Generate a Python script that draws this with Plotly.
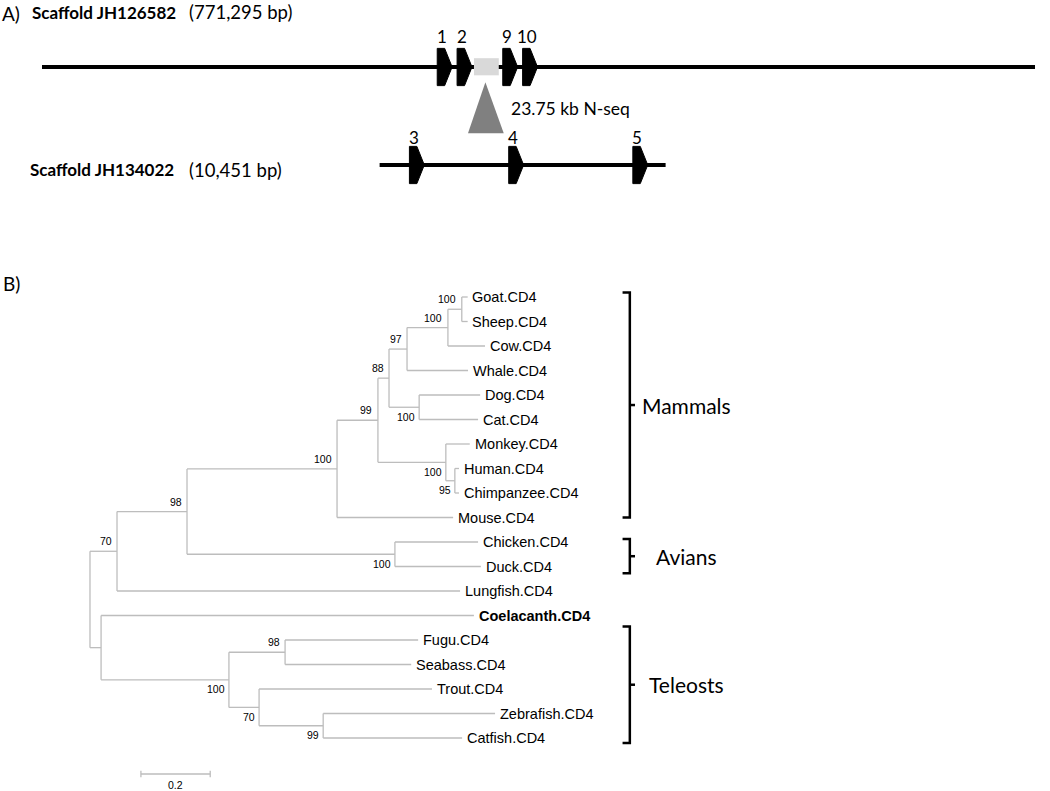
import plotly.graph_objects as go

# ---------------- Panel A data (schematic positions, % of drawing width) ----------------
top_scaffold_name = "Scaffold JH126582"
top_scaffold_size = "(771,295 bp)"
top_scaffold_extent = [0.0, 100.0]
top_exon_labels = ["1", "2", "9", "10"]
top_exon_pos = [39.8, 41.8, 46.4, 48.4]
gap_extent = [43.5, 46.0]
gap_label = "23.75 kb N-seq"

bottom_scaffold_name = "Scaffold JH134022"
bottom_scaffold_size = "(10,451 bp)"
bottom_scaffold_extent = [34.0, 62.8]
bottom_exon_labels = ["3", "4", "5"]
bottom_exon_pos = [37.0, 47.0, 59.5]

# ---------------- Panel B data (tree) ----------------
tips = ["Goat.CD4", "Sheep.CD4", "Cow.CD4", "Whale.CD4", "Dog.CD4", "Cat.CD4",
        "Monkey.CD4", "Human.CD4", "Chimpanzee.CD4", "Mouse.CD4", "Chicken.CD4",
        "Duck.CD4", "Lungfish.CD4", "Coelacanth.CD4", "Fugu.CD4", "Seabass.CD4",
        "Trout.CD4", "Zebrafish.CD4", "Catfish.CD4"]

edge_child = ["N70", "NFish", "N98", "Lungfish.CD4", "N100m", "NAves",
              "Chicken.CD4", "Duck.CD4", "N99", "Mouse.CD4", "N88", "NPrim",
              "N97", "NDogCat", "N100gsc", "Whale.CD4", "N100gs", "Cow.CD4",
              "Goat.CD4", "Sheep.CD4", "Dog.CD4", "Cat.CD4", "Monkey.CD4", "NHC",
              "Human.CD4", "Chimpanzee.CD4", "Coelacanth.CD4", "NTel", "NFS", "NTZC",
              "Fugu.CD4", "Seabass.CD4", "Trout.CD4", "NZC", "Zebrafish.CD4", "Catfish.CD4"]
edge_parent = ["root", "root", "N70", "N70", "N98", "N98",
               "NAves", "NAves", "N100m", "N100m", "N99", "N99",
               "N88", "N88", "N97", "N97", "N100gsc", "N100gsc",
               "N100gs", "N100gs", "NDogCat", "NDogCat", "NPrim", "NPrim",
               "NHC", "NHC", "NFish", "NFish", "NTel", "NTel",
               "NFS", "NFS", "NTZC", "NTZC", "NZC", "NZC"]
branch_length = [0.078, 0.032, 0.202, 0.990, 0.433, 0.600,
                 0.240, 0.248, 0.118, 0.335, 0.032, 0.196,
                 0.052, 0.087, 0.118, 0.176, 0.040, 0.107,
                 0.017, 0.017, 0.176, 0.170, 0.069, 0.026,
                 0.012, 0.012, 1.076, 0.369, 0.162, 0.087,
                 0.384, 0.364, 0.499, 0.185, 0.496, 0.401]

bootstrap_nodes = ["N70", "N98", "N100m", "N99", "N88", "N97", "N100gsc", "N100gs",
                   "NDogCat", "NPrim", "NHC", "NAves", "NTel", "NFS", "NTZC", "NZC"]
bootstrap_values = [70, 98, 100, 99, 88, 97, 100, 100,
                    100, 100, 95, 100, 100, 98, 70, 99]
bootstrap_below = {"NDogCat", "NPrim", "NHC", "NAves", "NTel", "NTZC", "NZC"}

clade_names = ["Mammals", "Avians", "Teleosts"]
clade_first = ["Goat.CD4", "Chicken.CD4", "Fugu.CD4"]
clade_last = ["Mouse.CD4", "Duck.CD4", "Catfish.CD4"]

scale_bar_length = 0.2

# ---------------- compute tree layout ----------------
children = {}
blen = {}
for c, p, L in zip(edge_child, edge_parent, branch_length):
    children.setdefault(p, []).append(c)
    blen[c] = L

xpos = {"root": 0.0}
def set_x(n):
    for c in children.get(n, []):
        xpos[c] = xpos[n] + blen[c]
        set_x(c)
set_x("root")

ypos = {t: i for i, t in enumerate(tips)}
def set_y(n):
    if n in ypos:
        return ypos[n]
    ys = [set_y(c) for c in children[n]]
    ypos[n] = (min(ys) + max(ys)) / 2
    return ypos[n]
set_y("root")

lx, ly = [], []
for n, ch in children.items():
    ys = [ypos[c] for c in ch]
    lx += [xpos[n], xpos[n], None]
    ly += [min(ys), max(ys), None]
    for c in ch:
        lx += [xpos[n], xpos[c], None]
        ly += [ypos[c], ypos[c], None]

TREE_GREY = "#bdbdbd"
FONT_A = "Lato"
FONT_B = "Liberation Sans, Arial"

fig = go.Figure()

# ---- Panel A traces ----
ROW_TOP, ROW_BOT = 0.0, 1.0
fig.add_trace(go.Scatter(x=top_scaffold_extent, y=[ROW_TOP, ROW_TOP], mode="lines",
                         line=dict(color="black", width=4), xaxis="x", yaxis="y",
                         hoverinfo="skip", showlegend=False))
fig.add_trace(go.Scatter(x=bottom_scaffold_extent, y=[ROW_BOT, ROW_BOT], mode="lines",
                         line=dict(color="black", width=4), xaxis="x", yaxis="y",
                         hoverinfo="skip", showlegend=False))
# gap box
g0, g1 = gap_extent
fig.add_trace(go.Scatter(x=[g0, g1, g1, g0, g0], y=[-0.09, -0.09, 0.085, 0.085, -0.09],
                         mode="lines", fill="toself", fillcolor="#d9d9d9",
                         line=dict(color="#d9d9d9", width=0), xaxis="x", yaxis="y",
                         hoverinfo="skip", showlegend=False))
# N-seq triangle
gm = (g0 + g1) / 2
fig.add_trace(go.Scatter(x=[gm - 0.1, gm - 1.85, gm + 1.75, gm - 0.1],
                         y=[0.155, 0.675, 0.675, 0.155],
                         mode="lines", fill="toself", fillcolor="#808080",
                         line=dict(color="#808080", width=0), xaxis="x", yaxis="y",
                         hoverinfo="skip", showlegend=False))

def gene_polys(pos_list, row):
    xs, ys = [], []
    h = 0.19
    for p in pos_list:
        xs += [p, p + 0.75, p + 1.5, p + 0.75, p, p, None]
        ys += [row - h, row - h, row, row + h, row + h, row - h, None]
    return xs, ys

gx, gy = gene_polys(top_exon_pos, ROW_TOP)
bx, by = gene_polys(bottom_exon_pos, ROW_BOT)
fig.add_trace(go.Scatter(x=gx + bx, y=gy + by, mode="lines", fill="toself",
                         fillcolor="black", line=dict(color="black", width=1),
                         xaxis="x", yaxis="y", hoverinfo="skip", showlegend=False))

ann = []
def a_text(x, y, text, size, xanchor="left", xref="x", yref="y", family=FONT_A, yanchor="middle"):
    ann.append(dict(x=x, y=y, xref=xref, yref=yref, text=text, showarrow=False,
                    xanchor=xanchor, yanchor=yanchor,
                    font=dict(family=family, size=size, color="black")))

for lab, p in zip(top_exon_labels, top_exon_pos):
    a_text(p + 0.45, ROW_TOP - 0.31, lab, 17, xanchor="center")
for lab, p in zip(bottom_exon_labels, bottom_exon_pos):
    a_text(p + 0.45, ROW_BOT - 0.28, lab, 17, xanchor="center")

a_text(-4.2, -0.55, "A)", 19)
a_text(-1.2, -0.56, "<b>%s</b>" % top_scaffold_name, 17)
a_text(14.6, -0.56, top_scaffold_size, 18.5)
a_text(-1.4, ROW_BOT + 0.05, "<b>%s</b>" % bottom_scaffold_name, 17)
a_text(14.6, ROW_BOT + 0.05, bottom_scaffold_size, 18.5)
a_text(g1 + 1.0, 0.42, gap_label, 17.5)

# ---- Panel B traces ----
fig.add_trace(go.Scatter(x=lx, y=ly, mode="lines", line=dict(color=TREE_GREY, width=1.3),
                         xaxis="x2", yaxis="y2", hoverinfo="skip", showlegend=False))

for t in tips:
    txt = "<b>%s</b>" % t if t == "Coelacanth.CD4" else t
    a_text(xpos[t] + 0.008, ypos[t], txt, 14.5, xref="x2", yref="y2", family=FONT_B)

for n, v in zip(bootstrap_nodes, bootstrap_values):
    if n in bootstrap_below:
        a_text(xpos[n] - 0.006, ypos[n] + 0.06, str(v), 10.5, xanchor="right",
               xref="x2", yref="y2", family=FONT_B, yanchor="top")
    else:
        a_text(xpos[n] - 0.010, ypos[n] - 0.08, str(v), 10.5, xanchor="right",
               xref="x2", yref="y2", family=FONT_B, yanchor="bottom")

# scale bar
sb0 = 0.147
sby = 19.47
fig.add_trace(go.Scatter(x=[sb0, sb0 + scale_bar_length, None, sb0, sb0, None,
                            sb0 + scale_bar_length, sb0 + scale_bar_length],
                         y=[sby, sby, None, sby - 0.13, sby + 0.13, None, sby - 0.13, sby + 0.13],
                         mode="lines", line=dict(color=TREE_GREY, width=1.3),
                         xaxis="x2", yaxis="y2", hoverinfo="skip", showlegend=False))
a_text(sb0 + scale_bar_length / 2, sby + 0.45, str(scale_bar_length), 10.5, xanchor="center",
       xref="x2", yref="y2", family=FONT_B)

a_text(-0.258, -0.57, "B)", 19, xref="x2", yref="y2")

# brackets
BR_X = 1.558
serif = 0.021
tick = 0.015
pad_top = [0.18, 0.12, 0.55]
pad_bot = [0.0, 0.28, 0.2]
label_gap = [0.03, 0.07, 0.05]
bkx, bky = [], []
for name, f, l, pt, pb, lg in zip(clade_names, clade_first, clade_last, pad_top, pad_bot, label_gap):
    y0 = ypos[f] - pt
    y1 = ypos[l] + pb
    ym = (y0 + y1) / 2
    bkx += [BR_X - serif, BR_X, BR_X, BR_X - serif, None, BR_X, BR_X + tick, None]
    bky += [y0, y0, y1, y1, None, ym, ym, None]
    a_text(BR_X + lg, ym, name, 21, xref="x2", yref="y2")
fig.add_trace(go.Scatter(x=bkx, y=bky, mode="lines", line=dict(color="black", width=2.5),
                         xaxis="x2", yaxis="y2", hoverinfo="skip", showlegend=False))

fig.update_layout(
    width=1050, height=791,
    margin=dict(l=0, r=0, t=0, b=0),
    paper_bgcolor="white", plot_bgcolor="white",
    showlegend=False,
    xaxis=dict(domain=[0, 1], range=[-4.23, 101.51], visible=False, anchor="y"),
    yaxis=dict(domain=[0, 1], range=[7.388, -0.6837], visible=False, anchor="x"),
    xaxis2=dict(domain=[0, 1], range=[-0.2597, 2.7706], visible=False, anchor="y2", overlaying="x"),
    yaxis2=dict(domain=[0, 1], range=[20.163, -12.122], visible=False, anchor="x2", overlaying="y"),
    annotations=ann,
)

fig.write_html("out.html", post_script="document.body.style.margin='0';",
               config={"displayModeBar": False})
